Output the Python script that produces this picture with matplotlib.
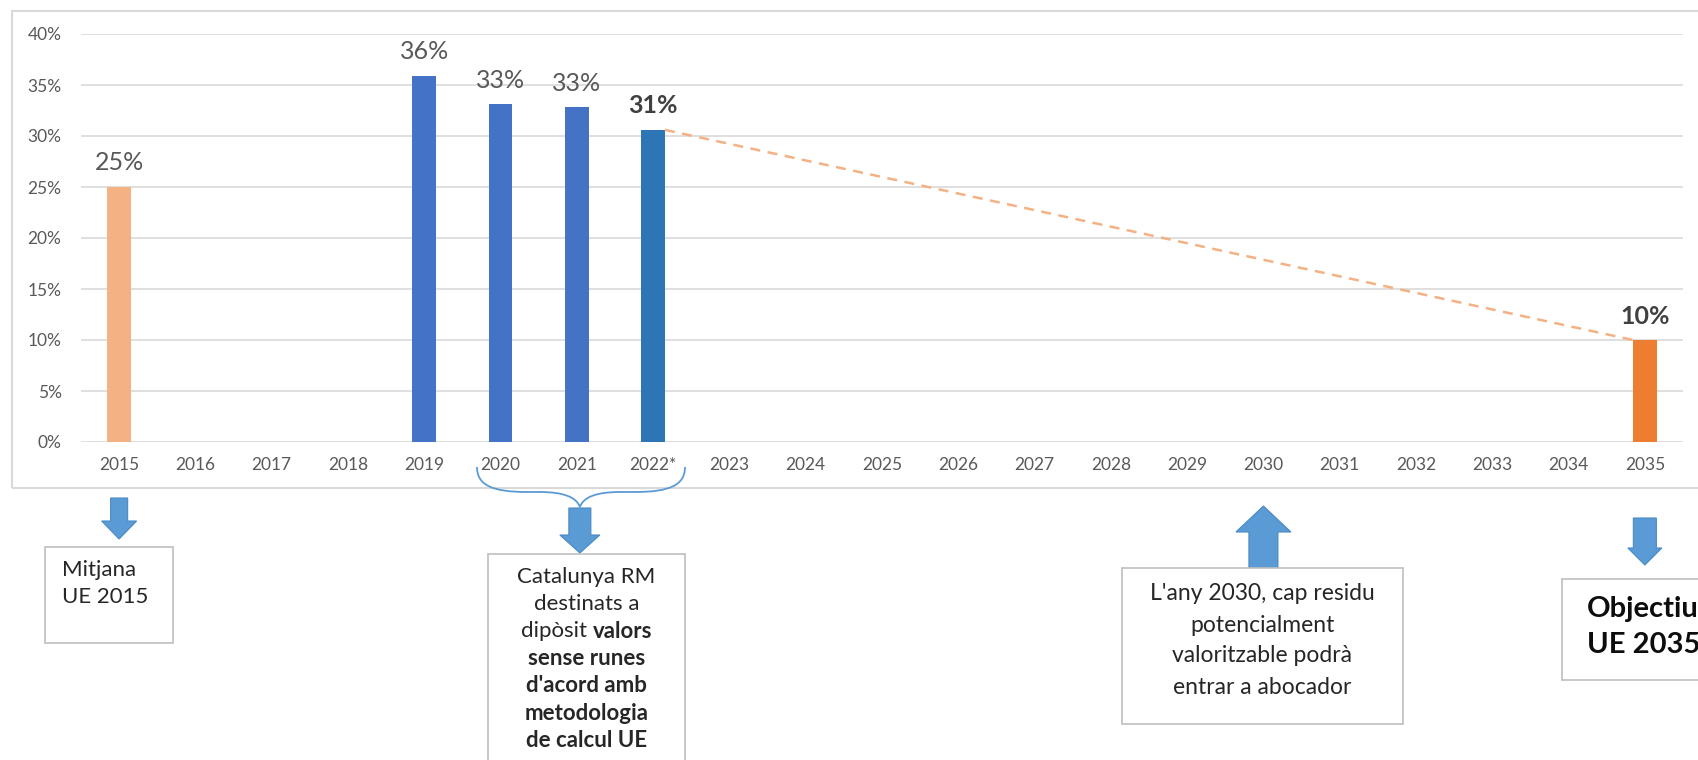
import matplotlib.pyplot as plt
from matplotlib.patches import Polygon, Rectangle, PathPatch
from matplotlib.path import Path

plt.rcParams['font.family'] = ['Lato', 'DejaVu Sans']

# --- dades ---
anys = ['2015', '2016', '2017', '2018', '2019', '2020', '2021', '2022*', '2023', '2024',
        '2025', '2026', '2027', '2028', '2029', '2030', '2031', '2032', '2033', '2034', '2035']
valors = [0.25, None, None, None, 0.359, 0.331, 0.328, 0.306, None, None,
          None, None, None, None, None, None, None, None, None, None, 0.10]
etiquetes = ['25%', '', '', '', '36%', '33%', '33%', '31%', '', '',
             '', '', '', '', '', '', '', '', '', '', '10%']
negreta = ['31%', '10%']
colors = {'2015': '#F4B183', '2019': '#4472C4', '2020': '#4472C4', '2021': '#4472C4',
          '2022*': '#2E75B6', '2035': '#ED7D31'}

W, H = 1698, 760
fig = plt.figure(figsize=(W / 100, H / 100), dpi=100)
ax = fig.add_axes([81 / W, 1 - 442 / H, (1683 - 81) / W, (442 - 34) / H])


def fx(x):
    return x / W


def fy(y):
    return 1 - y / H


# marc del gràfic
fig.patches.append(Rectangle((fx(12), fy(488)), fx(1720) - fx(12), fy(11) - fy(488),
                             transform=fig.transFigure, fill=False,
                             edgecolor='#D9D9D9', lw=1.5))

amplada = 0.31
for i, (a, v) in enumerate(zip(anys, valors)):
    if v is None:
        continue
    ax.bar(i, v, width=amplada, color=colors[a], zorder=3)
    et = etiquetes[i]
    ax.annotate(et, (i, v), xytext=(0, 9), textcoords='offset points',
                ha='center', va='bottom', fontsize=18,
                color='#404040' if et in negreta else '#595959',
                fontweight='bold' if et in negreta else 'normal')

# línia de tendència 2022 -> 2035
i0, i1 = anys.index('2022*'), anys.index('2035')
ax.plot([i0 + amplada / 2, i1 - amplada / 2], [valors[i0], valors[i1]],
        color='#F4B183', lw=1.8, ls=(0, (4, 3)), zorder=4)

ax.set_xlim(-0.5, len(anys) - 0.5)
ax.set_ylim(0, 0.40)
ax.set_yticks([k * 0.05 for k in range(9)])
ax.set_yticklabels([f'{k * 5}%' for k in range(9)])
ax.set_xticks(range(len(anys)))
ax.set_xticklabels(anys)
ax.grid(axis='y', color='#D9D9D9', lw=1.2, zorder=0)
ax.tick_params(axis='y', length=0, pad=14, labelsize=12.5, labelcolor='#595959')
ax.tick_params(axis='x', length=0, pad=11, labelsize=12.5, labelcolor='#595959')
for s in ax.spines.values():
    s.set_visible(False)

# --- anotacions (coordenades en píxels des de dalt) ---
blau = '#5B9BD5'


def fletxa(xc, y0, y1, shaft, head, head_len):
    # fletxa de bloc vertical, de y0 (cua) a y1 (punta)
    d = 1 if y1 > y0 else -1
    yb = y1 - d * head_len
    pts = [(xc - shaft / 2, y0), (xc + shaft / 2, y0), (xc + shaft / 2, yb),
           (xc + head / 2, yb), (xc, y1), (xc - head / 2, yb), (xc - shaft / 2, yb)]
    fig.patches.append(Polygon([(fx(x), fy(y)) for x, y in pts], closed=True,
                               transform=fig.transFigure, facecolor=blau,
                               edgecolor='#4A8AC4', lw=0.8))


def caixa(x0, y0, x1, y1):
    fig.patches.append(Rectangle((fx(x0), fy(y1)), fx(x1) - fx(x0), fy(y0) - fy(y1),
                                 transform=fig.transFigure, facecolor='white',
                                 edgecolor='#BFBFBF', lw=1.2))


def xpix(i):
    return ax.transData.transform((i, 0))[0]


text_color = '#262626'

# 2015
x15 = xpix(anys.index('2015'))
fletxa(x15, 498, 539, 17, 35, 18)
caixa(45, 547, 173, 643)
fig.text(fx(62), fy(570), 'Mitjana', fontsize=16, color=text_color, va='center', ha='left')
fig.text(fx(62), fy(597), 'UE 2015', fontsize=16, color=text_color, va='center', ha='left')

# clau 2020-2022
xl, xr = 477, 685
xm = (xpix(anys.index('2020')) + xpix(anys.index('2022*'))) / 2 + 3
verts = [(xl, 467), (xl, 485), (xl + 15, 492), (xl + 50, 492),
         (xm - 40, 492), (xm - 5, 492), (xm, 507),
         (xm + 5, 492), (xm + 40, 492), (xr - 50, 492),
         (xr - 15, 492), (xr, 485), (xr, 467)]
codes = [Path.MOVETO, Path.CURVE4, Path.CURVE4, Path.CURVE4,
         Path.LINETO, Path.CURVE3, Path.CURVE3,
         Path.CURVE3, Path.CURVE3, Path.LINETO,
         Path.CURVE4, Path.CURVE4, Path.CURVE4]
fig.patches.append(PathPatch(Path([(fx(x), fy(y)) for x, y in verts], codes),
                             transform=fig.transFigure, fill=False,
                             edgecolor=blau, lw=1.3))
fletxa(xm, 508, 553, 22, 40, 18)
caixa(488, 554, 685, 790)
linies_cat = [
    [('Catalunya RM', 'normal')],
    [('destinats a', 'normal')],
    [('dipòsit ', 'normal'), ('valors', 'bold')],
    [('sense runes', 'bold')],
    [("d'acord amb", 'bold')],
    [('metodologia', 'bold')],
    [('de calcul UE', 'bold')],
]
xc_cat = (488 + 685) / 2
r = fig.canvas.get_renderer()
for k, parts in enumerate(linies_cat):
    y = 577 + k * 27.2
    if len(parts) == 1:
        fig.text(fx(xc_cat), fy(y), parts[0][0], fontsize=16, color=text_color,
                 fontweight=parts[0][1], ha='center', va='center')
    else:
        t1 = fig.text(0, 0, parts[0][0], fontsize=16, fontweight=parts[0][1])
        t2 = fig.text(0, 0, parts[1][0], fontsize=16, fontweight=parts[1][1])
        w1 = t1.get_window_extent(r).width
        w2 = t2.get_window_extent(r).width
        x0 = xc_cat - (w1 + w2) / 2
        t1.set_position((fx(x0), fy(y)))
        t1.set(ha='left', va='center', color=text_color)
        t2.set_position((fx(x0 + w1), fy(y)))
        t2.set(ha='left', va='center', color=text_color)

# 2030
x30 = xpix(anys.index('2030'))
fletxa(x30, 571, 506, 29, 55, 26)
caixa(1122, 568, 1403, 724)
for k, lin in enumerate(["L'any 2030, cap residu", 'potencialment',
                         'valoritzable podrà', 'entrar a abocador']):
    fig.text(fx((1122 + 1403) / 2), fy(594 + k * 31), lin, fontsize=16.5,
             color=text_color, ha='center', va='center')

# 2035
x35 = xpix(anys.index('2035'))
fletxa(x35, 518, 565, 23, 34, 17)
caixa(1562, 579, 1760, 680)
fig.text(fx(1587), fy(609), 'Objectiu', fontsize=21, fontweight='bold',
         color='#0D0D0D', ha='left', va='center')
fig.text(fx(1587), fy(645), 'UE 2035', fontsize=21, fontweight='bold',
         color='#0D0D0D', ha='left', va='center')

fig.savefig('out.png', dpi=100, facecolor='white')
